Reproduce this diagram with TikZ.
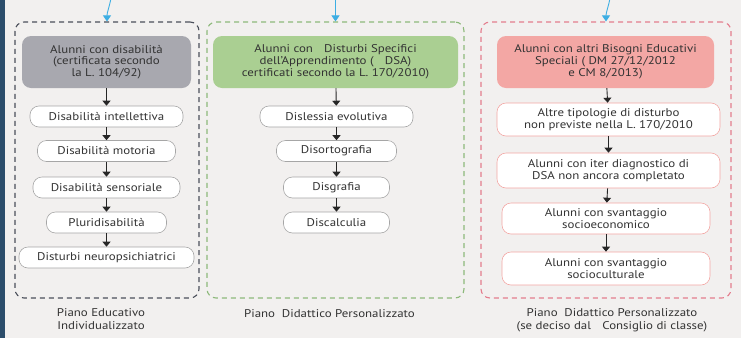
\documentclass[tikz,border=0pt]{standalone}
\usepackage{fontspec}
\setmainfont{PT Sans}[FakeStretch=1.15]
\usetikzlibrary{arrows.meta,positioning}
\definecolor{bgpaper}{HTML}{F2F0EF}
\definecolor{navystrip}{HTML}{2C4D6B}
\definecolor{slate}{HTML}{4B505B}
\definecolor{headgray}{HTML}{A8A8AF}
\definecolor{sage}{HTML}{8DB97B}
\definecolor{headgreen}{HTML}{AACF92}
\definecolor{rose}{HTML}{E47E8E}
\definecolor{headpink}{HTML}{F3A7A4}
\definecolor{skyblue}{HTML}{3DAEE3}
\definecolor{inkgray}{HTML}{333333}
\tikzset{
  grpbox/.style={draw, dash pattern=on 5pt off 4pt, line width=1.1pt, rounded corners=9pt, inner sep=0pt},
  headbox/.style={rounded corners=9pt, align=center, inner sep=0pt, minimum height=52pt, text=inkgray, font=\fontsize{11.2}{11.8}\selectfont},
  subbox/.style={draw=gray!70, fill=white, rounded corners=9pt, line width=0.6pt, align=center, inner sep=0pt, minimum height=21pt, text=inkgray, font=\fontsize{11.2}{12.5}\selectfont},
  planlabel/.style={align=center, inner sep=0pt, text=inkgray, font=\fontsize{11.2}{13}\selectfont},
  flow/.style={-{Triangle[width=8pt,length=5pt]}, line width=0.9pt, black!85},
  feed/.style={-{Triangle[width=8pt,length=6pt]}, line width=0.9pt, skyblue},
}

\begin{document}
\begin{tikzpicture}[x=1pt, y=-1pt]
    \useasboundingbox (0,0) rectangle (741,338);
    \fill[bgpaper] (0,0) rectangle (741,338);
    \fill[navystrip] (0,0) rectangle (4.5,338);

    % Group A: disabilita
    \node[grpbox, draw=slate, minimum width=184pt, minimum height=276pt] (grpA) at (107,160) {};
    \node[headbox, fill=headgray, minimum width=169pt] (hA) at (106.5,62)
        {Alunni con disabilità\\(certificata secondo\\la L. 104/92)};
    \node[subbox, minimum width=153pt] (a1) at (106.5,116.5) {Disabilità intellettiva};
    \node[subbox, minimum width=138pt] (a2) at (106.5,151) {Disabilità motoria};
    \node[subbox, minimum width=147pt] (a3) at (106.5,187.5) {Disabilità sensoriale};
    \node[subbox, minimum width=120pt] (a4) at (106.5,222.5) {Pluridisabilità};
    \node[subbox, minimum width=175pt] (a5) at (106.5,257.5) {Disturbi neuropsichiatrici};
    \node[planlabel, below=10pt of grpA, xshift=-6pt] (pA) {Piano Educativo\\Individualizzato};

    % Group B: DSA
    \node[grpbox, draw=sage, minimum width=257pt, minimum height=276pt] (grpB) at (335.5,160) {};
    \node[headbox, fill=headgreen, minimum width=245pt] (hB) at (335.5,62)
        {Alunni con\hspace{1em}Disturbi Specifici\\dell’Apprendimento (\hspace{1em}DSA)\\certificati secondo la L. 170/2010)};
    \node[subbox, minimum width=153pt] (b1) at (336.5,116.5) {Dislessia evolutiva};
    \node[subbox, minimum width=120pt] (b2) at (336.5,151) {Disortografia};
    \node[subbox, minimum width=106pt] (b3) at (336.5,187.5) {Disgrafia};
    \node[subbox, minimum width=106pt] (b4) at (336.5,222.5) {Discalculia};
    \node[planlabel, below=11pt of grpB, xshift=-6pt] (pB) {Piano\hspace{0.3em} Didattico Personalizzato};

    % Group C: altri BES
    \node[grpbox, draw=rose, minimum width=250pt, minimum height=276pt] (grpC) at (606,160) {};
    \node[headbox, fill=headpink, minimum width=217pt] (hC) at (605.5,62)
        {Alunni con altri Bisogni Educativi\\Speciali (\hspace{0.3em}DM 27/12/2012\\e CM 8/2013)};
    \node[subbox, draw=headpink, minimum width=223pt, minimum height=33pt] (c1) at (608.5,119.5)
        {Altre tipologie di disturbo\\non previste nella L. 170/2010};
    \node[subbox, draw=headpink, minimum width=223pt, minimum height=35pt] (c2) at (608.5,170.5)
        {Alunni con iter diagnostico di\\DSA non ancora completato};
    \node[subbox, draw=headpink, minimum width=208pt, minimum height=31pt] (c3) at (606,218.5)
        {Alunni con svantaggio\\socioeconomico};
    \node[subbox, draw=headpink, minimum width=208pt, minimum height=33pt] (c4) at (606,268.5)
        {Alunni con svantaggio\\socioculturale};
    \node[planlabel, below=10pt of grpC, xshift=6pt] (pC) {Piano\hspace{0.3em} Didattico Personalizzato\\(se deciso dal\hspace{1em}Consiglio di classe)};

    % Arrows inside the groups
    \foreach \u/\v in {hA/a1, a1/a2, a2/a3, a3/a4, a4/a5, hB/b1, b1/b2, b2/b3, b3/b4, hC/c1, c1/c2, c2/c3, c3/c4} {
        \draw[flow] (\u) -- (\v);
    }

    % Incoming arrows from above
    \coordinate (inA) at (111,-2);
    \coordinate (inB) at (335.5,-2);
    \coordinate (inC) at (610,-2);
    \draw[feed] (inA) to[out=-100, in=90] (grpA.north);
    \draw[feed] (inB) -- (grpB.north);
    \draw[feed] (inC) to[out=-100, in=90] (grpC.north);

\end{tikzpicture}
\end{document}
